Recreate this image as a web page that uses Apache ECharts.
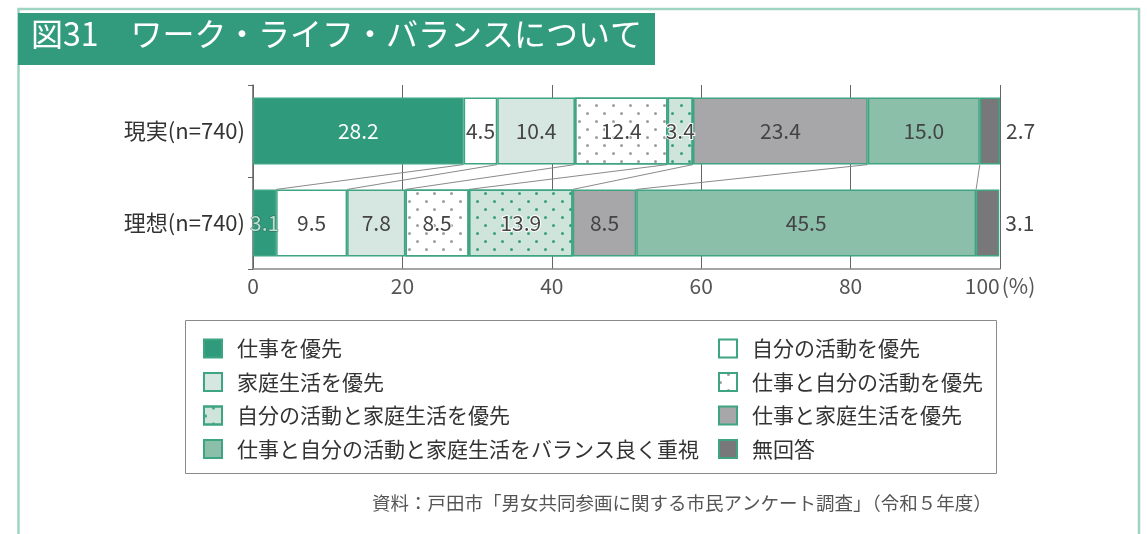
<!DOCTYPE html>
<html>
<head>
<meta charset="utf-8">
<script src="https://cdn.jsdelivr.net/npm/echarts@6/dist/echarts.min.js"></script>
<style>
html,body{margin:0;padding:0;background:#fff;}
#c{width:1147px;height:534px;}
</style>
</head>
<body>
<div id="c"></div>
<script>
const categories = ['現実(n=740)', '理想(n=740)'];
const seriesNames = ['仕事を優先', '自分の活動を優先', '家庭生活を優先', '仕事と自分の活動を優先', '自分の活動と家庭生活を優先', '仕事と家庭生活を優先', '仕事と自分の活動と家庭生活をバランス良く重視', '無回答'];
const genjitsu = [28.2, 4.5, 10.4, 12.4, 3.4, 23.4, 15.0, 2.7];
const riso = [3.1, 9.5, 7.8, 8.5, 13.9, 8.5, 45.5, 3.1];
const xTicks = [0, 20, 40, 60, 80, 100];

const FONT = "'Noto Sans CJK JP', 'Noto Sans', sans-serif";
const fills = ['#2f9a7c', '#ffffff', '#d5e7e0', '#ffffff', '#cfe5dc', '#a7a7a9', '#8bbfa9', '#78787a'];
const dotColors = [null, null, null, '#9a9fa0', '#3a9e7c', null, null, null];
const borderGreen = '#3fa482';

const dotDecal = (c) => ({
  symbol: 'circle',
  symbolSize: 1,
  color: c,
  dashArrayX: [[2.5, 13.5], [0, 8, 2.5, 5.5]],
  dashArrayY: [2.5, 4.5],
  rotation: 0
});

const series = seriesNames.map((name, i) => {
  const isLast = i === seriesNames.length - 1;
  const hasDots = !!dotColors[i];
  const itemStyle = { color: fills[i], borderColor: borderGreen, borderWidth: 1.5 };
  if (hasDots) itemStyle.decal = dotDecal(dotColors[i]);
  const label = {
    show: true,
    position: isLast ? 'right' : 'inside',
    distance: 6,
    color: i === 0 ? '#ffffff' : '#444',
    fontSize: 21,
    fontFamily: FONT,
    formatter: (p) => p.value.toFixed(1)
  };
  if (hasDots) { label.textBorderColor = '#ffffff'; label.textBorderWidth = 2; }
  const data = [genjitsu[i], riso[i]].map((v, j) => {
    if (i === 0 && j === 1) {
      return { value: v, label: { color: '#b5e2d4', textBorderColor: 'rgba(60,60,60,0.6)', textBorderWidth: 1 } };
    }
    return v;
  });
  return {
    name, type: 'bar', stack: 'total', barWidth: '73%',
    itemStyle, label, data,
    emphasis: { disabled: true },
    z: 3
  };
});

// connecting lines between cumulative boundaries
const cumTop = [], cumBot = [];
let a = 0, b = 0;
for (let i = 0; i < genjitsu.length - 1; i++) {
  a += genjitsu[i]; b += riso[i];
  cumTop.push(a); cumBot.push(b);
}
const lineData = cumTop.map((t, i) => [t, cumBot[i], 0]);

series.push({
  type: 'custom',
  name: 'connector',
  encode: { x: [0, 1], y: 2 },
  data: lineData,
  silent: true,
  z: 2,
  renderItem: function (params, api) {
    const band = api.size([0, 1])[1];
    const half = band * 0.73 / 2;
    const p1 = api.coord([api.value(0), 0]);
    const p2 = api.coord([api.value(1), 1]);
    return {
      type: 'line',
      shape: { x1: p1[0], y1: p1[1] + half, x2: p2[0], y2: p2[1] - half },
      style: { stroke: '#8a8a8a', lineWidth: 1 }
    };
  }
});

const legendText = { fontSize: 21, color: '#333', fontFamily: FONT, padding: [0, 0, 0, 10] };

const option = {
  animation: false,
  backgroundColor: '#ffffff',
  textStyle: { fontFamily: FONT },
  grid: { left: 253, right: 147, top: 85, height: 184, containLabel: false },
  xAxis: {
    type: 'value', min: 0, max: 100, interval: 20,
    axisLine: { show: true, lineStyle: { color: '#888', width: 1.5 } },
    axisTick: { show: false },
    splitLine: { show: true, lineStyle: { color: '#666', width: 1 } },
    axisLabel: {
      margin: 7, color: '#555', fontSize: 21, fontFamily: FONT,
      formatter: (v) => v === 100 ? '{n|100}{p|(%)}' : String(v),
      rich: {
        n: { fontSize: 21, color: '#555', fontFamily: FONT },
        p: { fontSize: 21, color: '#555', fontFamily: FONT, padding: [0, 0, 0, 2] }
      }
    }
  },
  yAxis: {
    type: 'category', inverse: true, data: categories,
    axisLine: { show: true, lineStyle: { color: '#666', width: 1.5 } },
    axisTick: { show: true, length: 5, lineStyle: { color: '#666' } },
    axisLabel: { color: '#333', fontSize: 22, fontFamily: FONT, margin: 8 }
  },
  legend: [
    {
      orient: 'vertical', left: 203, top: 338, itemWidth: 18, itemHeight: 18, itemGap: 12.5,
      selectedMode: false, padding: 0, icon: 'rect',
      data: [seriesNames[0], seriesNames[2], seriesNames[4], seriesNames[6]],
      textStyle: legendText
    },
    {
      orient: 'vertical', left: 718, top: 338, itemWidth: 18, itemHeight: 18, itemGap: 12.5,
      selectedMode: false, padding: 0, icon: 'rect',
      data: [seriesNames[1], seriesNames[3], seriesNames[5], seriesNames[7]],
      textStyle: legendText
    }
  ],
  graphic: [
    { type: 'rect', shape: { x: 18.5, y: 9, width: 1120.5, height: 540 }, style: { fill: 'none', stroke: '#9fd3c2', lineWidth: 2.5 }, silent: true, z: -10 },
    { type: 'rect', shape: { x: 18, y: 13, width: 637, height: 52 }, style: { fill: '#339b7d' }, silent: true, z: -5 },
    { type: 'text', left: 31, top: 18, style: { text: '図31　ワーク・ライフ・バランスについて', fill: '#ffffff', fontSize: 32, fontFamily: FONT }, silent: true },
    { type: 'rect', shape: { x: 185.5, y: 320.5, width: 811, height: 153 }, style: { fill: 'none', stroke: '#8a8a8a', lineWidth: 1 }, silent: true },
    { type: 'text', left: 372, top: 494, style: { text: '資料：戸田市「男女共同参画に関する市民アンケート調査」（令和５年度）', fill: '#555', fontSize: 18.5, fontFamily: FONT }, silent: true }
  ],
  series
};

const chart = echarts.init(document.getElementById('c'), null, { renderer: 'canvas' });
chart.setOption(option);
</script>
</body>
</html>
